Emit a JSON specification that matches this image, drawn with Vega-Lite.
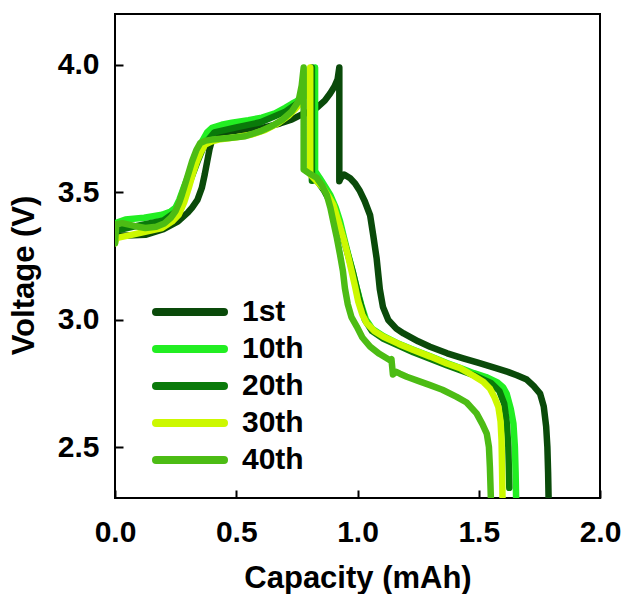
{
  "$schema": "https://vega.github.io/schema/vega-lite/v6.json",
  "width": 485,
  "height": 484,
  "autosize": {"type": "none"},
  "padding": {"left": 115, "top": 14, "right": 24, "bottom": 96},
  "background": "white",
  "config": {
    "font": "Liberation Sans",
    "view": {"stroke": "black", "strokeWidth": 2},
    "axis": {
      "domain": false,
      "grid": false,
      "ticks": true,
      "tickSize": -8,
      "tickWidth": 2,
      "tickColor": "black",
      "labelFlush": false,
      "labelFont": "Liberation Sans",
      "labelFontWeight": "bold",
      "labelFontSize": 30,
      "labelColor": "black",
      "titleFont": "Liberation Sans",
      "titleFontWeight": "bold",
      "titleFontSize": 31,
      "titleColor": "black"
    }
  },
  "data": {"values": [
    {"cycle":"1st","i":1,"cap":0.0,"v":3.31},{"cycle":"1st","i":2,"cap":0.005,"v":3.33},{"cycle":"1st","i":3,"cap":0.05,"v":3.33},{"cycle":"1st","i":4,"cap":0.125,"v":3.333},{"cycle":"1st","i":5,"cap":0.2,"v":3.355},{"cycle":"1st","i":6,"cap":0.26,"v":3.386},{"cycle":"1st","i":7,"cap":0.3,"v":3.42},{"cycle":"1st","i":8,"cap":0.318,"v":3.44},{"cycle":"1st","i":9,"cap":0.34,"v":3.47},{"cycle":"1st","i":10,"cap":0.358,"v":3.517},{"cycle":"1st","i":11,"cap":0.37,"v":3.57},{"cycle":"1st","i":12,"cap":0.38,"v":3.62},{"cycle":"1st","i":13,"cap":0.39,"v":3.67},{"cycle":"1st","i":14,"cap":0.4,"v":3.705},{"cycle":"1st","i":15,"cap":0.42,"v":3.725},{"cycle":"1st","i":16,"cap":0.441,"v":3.734},{"cycle":"1st","i":17,"cap":0.5,"v":3.742},{"cycle":"1st","i":18,"cap":0.606,"v":3.753},{"cycle":"1st","i":19,"cap":0.68,"v":3.77},{"cycle":"1st","i":20,"cap":0.73,"v":3.786},{"cycle":"1st","i":21,"cap":0.771,"v":3.806},{"cycle":"1st","i":22,"cap":0.8,"v":3.815},{"cycle":"1st","i":23,"cap":0.832,"v":3.832},{"cycle":"1st","i":24,"cap":0.865,"v":3.86},{"cycle":"1st","i":25,"cap":0.887,"v":3.888},{"cycle":"1st","i":26,"cap":0.905,"v":3.915},{"cycle":"1st","i":27,"cap":0.918,"v":3.944},{"cycle":"1st","i":28,"cap":0.925,"v":3.99},{"cycle":"1st","i":29,"cap":0.925,"v":3.543},{"cycle":"1st","i":30,"cap":0.93,"v":3.555},{"cycle":"1st","i":31,"cap":0.945,"v":3.57},{"cycle":"1st","i":32,"cap":0.97,"v":3.555},{"cycle":"1st","i":33,"cap":0.99,"v":3.535},{"cycle":"1st","i":34,"cap":1.01,"v":3.505},{"cycle":"1st","i":35,"cap":1.03,"v":3.465},{"cycle":"1st","i":36,"cap":1.052,"v":3.41},{"cycle":"1st","i":37,"cap":1.065,"v":3.33},{"cycle":"1st","i":38,"cap":1.079,"v":3.24},{"cycle":"1st","i":39,"cap":1.092,"v":3.12},{"cycle":"1st","i":40,"cap":1.105,"v":3.05},{"cycle":"1st","i":41,"cap":1.127,"v":2.999},{"cycle":"1st","i":42,"cap":1.16,"v":2.965},{"cycle":"1st","i":43,"cap":1.19,"v":2.946},{"cycle":"1st","i":44,"cap":1.25,"v":2.915},{"cycle":"1st","i":45,"cap":1.299,"v":2.894},{"cycle":"1st","i":46,"cap":1.37,"v":2.868},{"cycle":"1st","i":47,"cap":1.436,"v":2.848},{"cycle":"1st","i":48,"cap":1.5,"v":2.83},{"cycle":"1st","i":49,"cap":1.574,"v":2.809},{"cycle":"1st","i":50,"cap":1.62,"v":2.795},{"cycle":"1st","i":51,"cap":1.657,"v":2.782},{"cycle":"1st","i":52,"cap":1.698,"v":2.765},{"cycle":"1st","i":53,"cap":1.726,"v":2.74},{"cycle":"1st","i":54,"cap":1.753,"v":2.71},{"cycle":"1st","i":55,"cap":1.768,"v":2.66},{"cycle":"1st","i":56,"cap":1.778,"v":2.58},{"cycle":"1st","i":57,"cap":1.783,"v":2.5},{"cycle":"1st","i":58,"cap":1.786,"v":2.4},{"cycle":"1st","i":59,"cap":1.788,"v":2.3},

    {"cycle":"10th","i":1,"cap":0.0,"v":3.33},{"cycle":"10th","i":2,"cap":0.005,"v":3.38},{"cycle":"10th","i":3,"cap":0.043,"v":3.393},{"cycle":"10th","i":4,"cap":0.12,"v":3.4},{"cycle":"10th","i":5,"cap":0.194,"v":3.412},{"cycle":"10th","i":6,"cap":0.23,"v":3.425},{"cycle":"10th","i":7,"cap":0.249,"v":3.439},{"cycle":"10th","i":8,"cap":0.265,"v":3.47},{"cycle":"10th","i":9,"cap":0.283,"v":3.517},{"cycle":"10th","i":10,"cap":0.3,"v":3.56},{"cycle":"10th","i":11,"cap":0.324,"v":3.609},{"cycle":"10th","i":12,"cap":0.34,"v":3.655},{"cycle":"10th","i":13,"cap":0.359,"v":3.7},{"cycle":"10th","i":14,"cap":0.38,"v":3.735},{"cycle":"10th","i":15,"cap":0.4,"v":3.753},{"cycle":"10th","i":16,"cap":0.44,"v":3.765},{"cycle":"10th","i":17,"cap":0.482,"v":3.773},{"cycle":"10th","i":18,"cap":0.55,"v":3.783},{"cycle":"10th","i":19,"cap":0.606,"v":3.793},{"cycle":"10th","i":20,"cap":0.66,"v":3.81},{"cycle":"10th","i":21,"cap":0.702,"v":3.832},{"cycle":"10th","i":22,"cap":0.73,"v":3.848},{"cycle":"10th","i":23,"cap":0.75,"v":3.858},{"cycle":"10th","i":24,"cap":0.775,"v":3.88},{"cycle":"10th","i":25,"cap":0.8,"v":3.91},{"cycle":"10th","i":26,"cap":0.815,"v":3.95},{"cycle":"10th","i":27,"cap":0.825,"v":3.99},{"cycle":"10th","i":28,"cap":0.825,"v":3.583},{"cycle":"10th","i":29,"cap":0.845,"v":3.555},{"cycle":"10th","i":30,"cap":0.865,"v":3.525},{"cycle":"10th","i":31,"cap":0.887,"v":3.491},{"cycle":"10th","i":32,"cap":0.91,"v":3.44},{"cycle":"10th","i":33,"cap":0.928,"v":3.386},{"cycle":"10th","i":34,"cap":0.945,"v":3.32},{"cycle":"10th","i":35,"cap":0.962,"v":3.255},{"cycle":"10th","i":36,"cap":0.98,"v":3.19},{"cycle":"10th","i":37,"cap":0.997,"v":3.124},{"cycle":"10th","i":38,"cap":1.015,"v":3.06},{"cycle":"10th","i":39,"cap":1.035,"v":3.0},{"cycle":"10th","i":40,"cap":1.06,"v":2.965},{"cycle":"10th","i":41,"cap":1.107,"v":2.935},{"cycle":"10th","i":42,"cap":1.17,"v":2.905},{"cycle":"10th","i":43,"cap":1.23,"v":2.882},{"cycle":"10th","i":44,"cap":1.3,"v":2.856},{"cycle":"10th","i":45,"cap":1.368,"v":2.83},{"cycle":"10th","i":46,"cap":1.43,"v":2.808},{"cycle":"10th","i":47,"cap":1.48,"v":2.79},{"cycle":"10th","i":48,"cap":1.53,"v":2.775},{"cycle":"10th","i":49,"cap":1.575,"v":2.755},{"cycle":"10th","i":50,"cap":1.6,"v":2.735},{"cycle":"10th","i":51,"cap":1.615,"v":2.71},{"cycle":"10th","i":52,"cap":1.632,"v":2.65},{"cycle":"10th","i":53,"cap":1.643,"v":2.592},{"cycle":"10th","i":54,"cap":1.649,"v":2.5},{"cycle":"10th","i":55,"cap":1.652,"v":2.4},{"cycle":"10th","i":56,"cap":1.654,"v":2.3},

    {"cycle":"20th","i":1,"cap":0.0,"v":3.31},{"cycle":"20th","i":2,"cap":0.005,"v":3.35},{"cycle":"20th","i":3,"cap":0.1,"v":3.37},{"cycle":"20th","i":4,"cap":0.2,"v":3.39},{"cycle":"20th","i":5,"cap":0.26,"v":3.43},{"cycle":"20th","i":6,"cap":0.28,"v":3.47},{"cycle":"20th","i":7,"cap":0.3,"v":3.52},{"cycle":"20th","i":8,"cap":0.34,"v":3.62},{"cycle":"20th","i":9,"cap":0.37,"v":3.69},{"cycle":"20th","i":10,"cap":0.41,"v":3.735},{"cycle":"20th","i":11,"cap":0.5,"v":3.755},{"cycle":"20th","i":12,"cap":0.6,"v":3.775},{"cycle":"20th","i":13,"cap":0.7,"v":3.815},{"cycle":"20th","i":14,"cap":0.76,"v":3.855},{"cycle":"20th","i":15,"cap":0.79,"v":3.9},{"cycle":"20th","i":16,"cap":0.805,"v":3.95},{"cycle":"20th","i":17,"cap":0.812,"v":3.99},{"cycle":"20th","i":18,"cap":0.812,"v":3.545},{"cycle":"20th","i":19,"cap":0.83,"v":3.55},{"cycle":"20th","i":20,"cap":0.86,"v":3.51},{"cycle":"20th","i":21,"cap":0.9,"v":3.44},{"cycle":"20th","i":22,"cap":0.94,"v":3.325},{"cycle":"20th","i":23,"cap":0.98,"v":3.19},{"cycle":"20th","i":24,"cap":1.005,"v":3.09},{"cycle":"20th","i":25,"cap":1.03,"v":3.0},{"cycle":"20th","i":26,"cap":1.06,"v":2.955},{"cycle":"20th","i":27,"cap":1.107,"v":2.925},{"cycle":"20th","i":28,"cap":1.23,"v":2.872},{"cycle":"20th","i":29,"cap":1.37,"v":2.82},{"cycle":"20th","i":30,"cap":1.48,"v":2.782},{"cycle":"20th","i":31,"cap":1.55,"v":2.752},{"cycle":"20th","i":32,"cap":1.585,"v":2.72},{"cycle":"20th","i":33,"cap":1.605,"v":2.67},{"cycle":"20th","i":34,"cap":1.615,"v":2.6},{"cycle":"20th","i":35,"cap":1.622,"v":2.5},{"cycle":"20th","i":36,"cap":1.626,"v":2.34},

    {"cycle":"30th","i":1,"cap":0.0,"v":3.3},{"cycle":"30th","i":2,"cap":0.005,"v":3.32},{"cycle":"30th","i":3,"cap":0.068,"v":3.333},{"cycle":"30th","i":4,"cap":0.194,"v":3.36},{"cycle":"30th","i":5,"cap":0.235,"v":3.385},{"cycle":"30th","i":6,"cap":0.263,"v":3.412},{"cycle":"30th","i":7,"cap":0.285,"v":3.46},{"cycle":"30th","i":8,"cap":0.304,"v":3.517},{"cycle":"30th","i":9,"cap":0.32,"v":3.57},{"cycle":"30th","i":10,"cap":0.338,"v":3.622},{"cycle":"30th","i":11,"cap":0.355,"v":3.66},{"cycle":"30th","i":12,"cap":0.372,"v":3.688},{"cycle":"30th","i":13,"cap":0.4,"v":3.7},{"cycle":"30th","i":14,"cap":0.427,"v":3.707},{"cycle":"30th","i":15,"cap":0.5,"v":3.716},{"cycle":"30th","i":16,"cap":0.565,"v":3.727},{"cycle":"30th","i":17,"cap":0.62,"v":3.745},{"cycle":"30th","i":18,"cap":0.675,"v":3.773},{"cycle":"30th","i":19,"cap":0.715,"v":3.8},{"cycle":"30th","i":20,"cap":0.743,"v":3.826},{"cycle":"30th","i":21,"cap":0.765,"v":3.852},{"cycle":"30th","i":22,"cap":0.778,"v":3.872},{"cycle":"30th","i":23,"cap":0.795,"v":3.92},{"cycle":"30th","i":24,"cap":0.805,"v":3.99},{"cycle":"30th","i":25,"cap":0.805,"v":3.57},{"cycle":"30th","i":26,"cap":0.83,"v":3.545},{"cycle":"30th","i":27,"cap":0.859,"v":3.517},{"cycle":"30th","i":28,"cap":0.88,"v":3.485},{"cycle":"30th","i":29,"cap":0.9,"v":3.452},{"cycle":"30th","i":30,"cap":0.92,"v":3.39},{"cycle":"30th","i":31,"cap":0.942,"v":3.32},{"cycle":"30th","i":32,"cap":0.96,"v":3.255},{"cycle":"30th","i":33,"cap":0.976,"v":3.189},{"cycle":"30th","i":34,"cap":0.99,"v":3.13},{"cycle":"30th","i":35,"cap":1.003,"v":3.071},{"cycle":"30th","i":36,"cap":1.02,"v":3.02},{"cycle":"30th","i":37,"cap":1.038,"v":2.986},{"cycle":"30th","i":38,"cap":1.07,"v":2.955},{"cycle":"30th","i":39,"cap":1.107,"v":2.933},{"cycle":"30th","i":40,"cap":1.17,"v":2.905},{"cycle":"30th","i":41,"cap":1.23,"v":2.881},{"cycle":"30th","i":42,"cap":1.3,"v":2.855},{"cycle":"30th","i":43,"cap":1.368,"v":2.828},{"cycle":"30th","i":44,"cap":1.423,"v":2.81},{"cycle":"30th","i":45,"cap":1.478,"v":2.78},{"cycle":"30th","i":46,"cap":1.52,"v":2.755},{"cycle":"30th","i":47,"cap":1.546,"v":2.73},{"cycle":"30th","i":48,"cap":1.565,"v":2.695},{"cycle":"30th","i":49,"cap":1.581,"v":2.657},{"cycle":"30th","i":50,"cap":1.59,"v":2.6},{"cycle":"30th","i":51,"cap":1.594,"v":2.526},{"cycle":"30th","i":52,"cap":1.596,"v":2.42},{"cycle":"30th","i":53,"cap":1.598,"v":2.3},

    {"cycle":"40th","i":1,"cap":0.0,"v":3.3},{"cycle":"40th","i":2,"cap":0.005,"v":3.375},{"cycle":"40th","i":3,"cap":0.03,"v":3.379},{"cycle":"40th","i":4,"cap":0.08,"v":3.368},{"cycle":"40th","i":5,"cap":0.125,"v":3.36},{"cycle":"40th","i":6,"cap":0.17,"v":3.365},{"cycle":"40th","i":7,"cap":0.205,"v":3.379},{"cycle":"40th","i":8,"cap":0.23,"v":3.4},{"cycle":"40th","i":9,"cap":0.249,"v":3.425},{"cycle":"40th","i":10,"cap":0.265,"v":3.46},{"cycle":"40th","i":11,"cap":0.276,"v":3.491},{"cycle":"40th","i":12,"cap":0.295,"v":3.55},{"cycle":"40th","i":13,"cap":0.318,"v":3.622},{"cycle":"40th","i":14,"cap":0.335,"v":3.665},{"cycle":"40th","i":15,"cap":0.352,"v":3.694},{"cycle":"40th","i":16,"cap":0.375,"v":3.703},{"cycle":"40th","i":17,"cap":0.4,"v":3.707},{"cycle":"40th","i":18,"cap":0.47,"v":3.713},{"cycle":"40th","i":19,"cap":0.537,"v":3.72},{"cycle":"40th","i":20,"cap":0.6,"v":3.74},{"cycle":"40th","i":21,"cap":0.647,"v":3.76},{"cycle":"40th","i":22,"cap":0.69,"v":3.785},{"cycle":"40th","i":23,"cap":0.73,"v":3.819},{"cycle":"40th","i":24,"cap":0.757,"v":3.858},{"cycle":"40th","i":25,"cap":0.77,"v":3.92},{"cycle":"40th","i":26,"cap":0.778,"v":3.99},{"cycle":"40th","i":27,"cap":0.778,"v":3.589},{"cycle":"40th","i":28,"cap":0.8,"v":3.575},{"cycle":"40th","i":29,"cap":0.832,"v":3.557},{"cycle":"40th","i":30,"cap":0.855,"v":3.525},{"cycle":"40th","i":31,"cap":0.873,"v":3.491},{"cycle":"40th","i":32,"cap":0.888,"v":3.44},{"cycle":"40th","i":33,"cap":0.9,"v":3.386},{"cycle":"40th","i":34,"cap":0.915,"v":3.32},{"cycle":"40th","i":35,"cap":0.928,"v":3.255},{"cycle":"40th","i":36,"cap":0.94,"v":3.19},{"cycle":"40th","i":37,"cap":0.948,"v":3.124},{"cycle":"40th","i":38,"cap":0.96,"v":3.06},{"cycle":"40th","i":39,"cap":0.975,"v":3.01},{"cycle":"40th","i":40,"cap":0.997,"v":2.973},{"cycle":"40th","i":41,"cap":1.02,"v":2.93},{"cycle":"40th","i":42,"cap":1.052,"v":2.894},{"cycle":"40th","i":43,"cap":1.09,"v":2.866},{"cycle":"40th","i":44,"cap":1.134,"v":2.841},{"cycle":"40th","i":45,"cap":1.14,"v":2.845},{"cycle":"40th","i":46,"cap":1.143,"v":2.815},{"cycle":"40th","i":47,"cap":1.146,"v":2.785},{"cycle":"40th","i":48,"cap":1.16,"v":2.795},{"cycle":"40th","i":49,"cap":1.175,"v":2.788},{"cycle":"40th","i":50,"cap":1.203,"v":2.776},{"cycle":"40th","i":51,"cap":1.25,"v":2.76},{"cycle":"40th","i":52,"cap":1.299,"v":2.743},{"cycle":"40th","i":53,"cap":1.35,"v":2.725},{"cycle":"40th","i":54,"cap":1.409,"v":2.697},{"cycle":"40th","i":55,"cap":1.45,"v":2.675},{"cycle":"40th","i":56,"cap":1.491,"v":2.632},{"cycle":"40th","i":57,"cap":1.515,"v":2.59},{"cycle":"40th","i":58,"cap":1.533,"v":2.553},{"cycle":"40th","i":59,"cap":1.542,"v":2.5},{"cycle":"40th","i":60,"cap":1.546,"v":2.42},{"cycle":"40th","i":61,"cap":1.55,"v":2.3}
  ]},
  "mark": {"type": "line", "strokeWidth": 6.5, "strokeCap": "round", "strokeJoin": "round", "clip": true},
  "encoding": {
    "x": {
      "field": "cap", "type": "quantitative",
      "scale": {"domain": [0, 2], "nice": false, "zero": false},
      "axis": {"title": "Capacity (mAh)", "values": [0, 0.5, 1, 1.5, 2], "format": ".1f", "labelPadding": 27, "titleBaseline": "alphabetic", "titleY": 89}
    },
    "y": {
      "field": "v", "type": "quantitative",
      "scale": {"domain": [2.3, 4.2], "nice": false, "zero": false},
      "axis": {"title": "Voltage (V)", "values": [2.5, 3, 3.5, 4], "format": ".1f", "labelPadding": 24, "titleBaseline": "alphabetic", "titleAngle": -90, "titleX": -82, "titleY": 261}
    },
    "color": {
      "field": "cycle", "type": "nominal",
      "scale": {"domain": ["1st", "10th", "20th", "30th", "40th"], "range": ["#0a4a0a", "#22ee22", "#0a7a0a", "#ccf800", "#4cbc14"]},
      "legend": {
        "title": null,
        "orient": "none",
        "legendX": 37,
        "legendY": 283,
        "padding": 0,
        "symbolType": "stroke",
        "symbolSize": 4624,
        "symbolStrokeWidth": 8,
        "clipHeight": 30,
        "labelFont": "Liberation Sans",
        "labelFontSize": 30,
        "labelFontWeight": "bold",
        "labelColor": "black",
        "labelOffset": 14,
        "rowPadding": 7,
        "encode": {"symbols": {"update": {"strokeCap": {"value": "round"}}}}
      }
    },
    "order": {"field": "i", "type": "quantitative"}
  }
}
